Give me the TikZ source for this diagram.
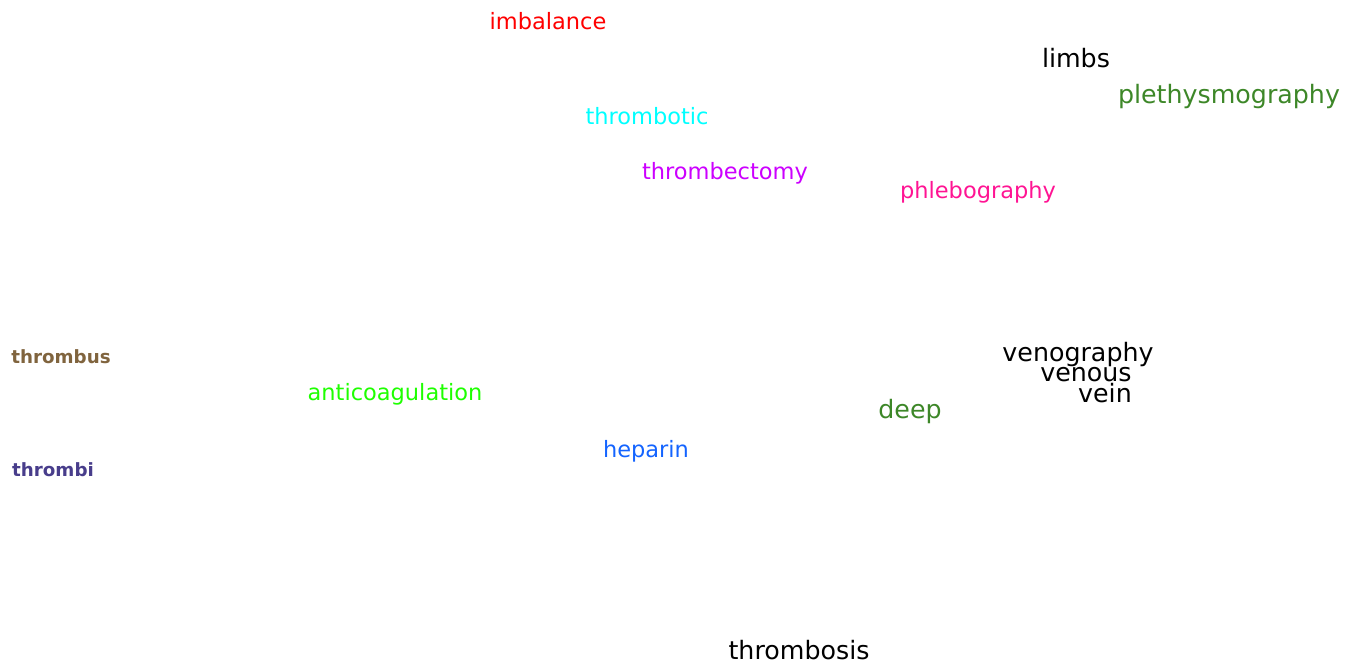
\documentclass[tikz,border=0pt]{standalone}
\usepackage{fontspec}
\setmainfont{DejaVu Sans}
\usepackage{tikz}

\definecolor{termred}{RGB}{255,0,0}
\definecolor{termcyan}{RGB}{0,255,255}
\definecolor{termviolet}{RGB}{204,0,255}
\definecolor{termpink}{RGB}{255,20,147}
\definecolor{termgreen}{RGB}{61,135,40}
\definecolor{termlime}{RGB}{30,255,0}
\definecolor{termblue}{RGB}{20,100,255}
\definecolor{termbrown}{RGB}{128,100,62}
\definecolor{termslate}{RGB}{72,61,139}

\begin{document}
\begin{tikzpicture}[
x=0.02cm, y=-0.02cm,
word/.style={inner sep=0pt, font=\fontsize{12.8}{15}\selectfont},
bigword/.style={inner sep=0pt, font=\fontsize{14.4}{17}\selectfont},
small/.style={inner sep=0pt, font=\fontsize{10.4}{12}\selectfont\bfseries}
]
\useasboundingbox (0,0) rectangle (1360,665);
\node[word, text=termred] (imbalance) at (548,21) {imbalance};
\node[bigword] (limbs) at (1076,58) {limbs};
\node[bigword, text=termgreen] (pleth) at (1229,97) {plethysmography};
\node[word, text=termcyan] (thrombotic) at (647,116) {thrombotic};
\node[word, text=termviolet] (thrombectomy) at (725,173) {thrombectomy};
\node[word, text=termpink] (phlebo) at (978,192) {phlebography};
\node[small, text=termbrown] (thrombus) at (61,357) {thrombus};
\node[word, text=termlime] (anticoag) at (395,394) {anticoagulation};
\node[bigword] (venography) at (1078,355) {venography};
\node[bigword] (venous) at (1086,375) {venous};
\node[bigword] (vein) at (1105,393) {vein};
\node[bigword, text=termgreen] (deep) at (910,412) {deep};
\node[word, text=termblue] (heparin) at (646,451) {heparin};
\node[small, text=termslate] (thrombi) at (53,470) {thrombi};
\node[bigword] (thrombosis) at (799,650) {thrombosis};
\end{tikzpicture}
\end{document}
